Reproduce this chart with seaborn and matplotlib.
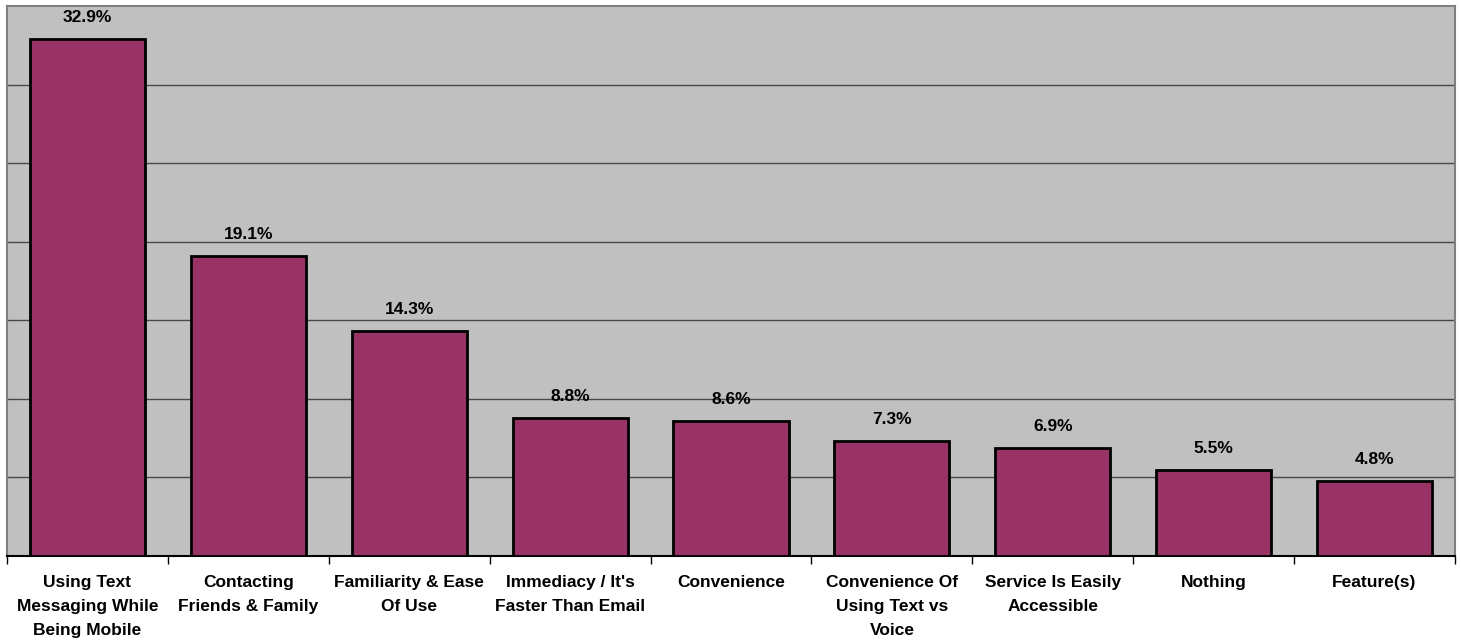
import matplotlib
matplotlib.use("Agg")
import matplotlib.pyplot as plt
import seaborn as sns
import numpy as np

categories = [
    "Using Text\nMessaging While\nBeing Mobile",
    "Contacting\nFriends & Family",
    "Familiarity & Ease\nOf Use",
    "Immediacy / It's\nFaster Than Email",
    "Convenience",
    "Convenience Of\nUsing Text vs\nVoice",
    "Service Is Easily\nAccessible",
    "Nothing",
    "Feature(s)",
]
values = [32.9, 19.1, 14.3, 8.8, 8.6, 7.3, 6.9, 5.5, 4.8]

sns.set_style("white")
plt.rcParams["font.family"] = ["Liberation Sans", "DejaVu Sans"]
plt.rcParams["text.color"] = "black"
plt.rcParams["xtick.color"] = "black"
plt.rcParams["xtick.labelcolor"] = "black"

W, H = 1461, 642
fig = plt.figure(figsize=(W / 100, H / 100), dpi=100)
ax = fig.add_axes([7 / W, (H - 556) / H, (1455 - 7) / W, (556 - 6) / H])
ax.set_facecolor("#C0C0C0")

sns.barplot(x=categories, y=values, ax=ax, width=0.715, color="#993366",
            edgecolor="black", linewidth=2, saturation=1, zorder=3)

ax.set_xlim(-0.5, len(categories) - 0.5)
ax.set_ylim(0, 35)

# horizontal gridlines every 5 points, no value axis labels
for yv in np.arange(5, 35, 5):
    ax.axhline(yv, color="#484848", linewidth=1, zorder=1)
ax.set_yticks([])
ax.set_ylabel("")
ax.set_xlabel("")

# category labels centered, tick marks at category boundaries
ax.set_xticks(range(len(categories)))
ax.set_xticklabels(categories, fontsize=12.5, fontweight="bold",
                   linespacing=1.72, multialignment="center", color="black")
ax.tick_params(axis="x", which="major", length=0, pad=14, bottom=True)
ax.set_xticks(np.arange(-0.5, len(categories), 1), minor=True)
ax.tick_params(axis="x", which="minor", length=6, width=1, color="black",
               direction="out", bottom=True)

for side in ["left", "top", "right"]:
    ax.spines[side].set_color("#808080")
    ax.spines[side].set_linewidth(1.5)
ax.spines["bottom"].set_color("black")
ax.spines["bottom"].set_linewidth(1.5)

# value labels above bars
for i, v in enumerate(values):
    ax.annotate(f"{v:.1f}%", xy=(i, v), xytext=(0, 10), textcoords="offset points",
                ha="center", va="bottom", fontsize=12.5, fontweight="bold",
                color="black", zorder=4)

fig.savefig("out.png", dpi=100)
